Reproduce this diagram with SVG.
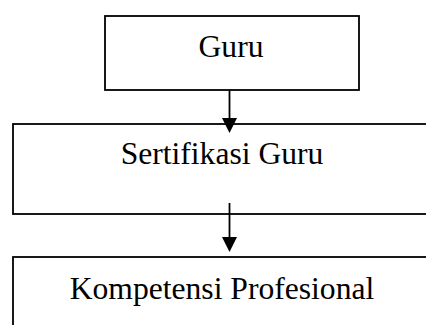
<svg xmlns="http://www.w3.org/2000/svg" width="426" height="325" viewBox="0 0 426 325">
<style>
.box{fill:#fff;stroke:#000;stroke-width:1.8}
.lbl{font-family:"Liberation Serif","Times New Roman",serif;font-size:31.6px;fill:#000;text-anchor:middle}
.conn{stroke:#000;stroke-width:1.8;fill:none}
.head{fill:#000}
</style>
<rect width="426" height="325" fill="#fff"/>
<g id="node-guru">
<rect class="box" x="105" y="16" width="254" height="74"/>
<text class="lbl" x="231" y="57">Guru</text>
</g>
<g id="node-sertifikasi">
<rect class="box" x="13" y="124" width="430" height="90"/>
<text class="lbl" x="222" y="164">Sertifikasi Guru</text>
</g>
<g id="node-kompetensi">
<rect class="box" x="13" y="257" width="430" height="90"/>
<text class="lbl" x="222" y="299">Kompetensi Profesional</text>
</g>
<g id="connectors">
<line class="conn" x1="229.5" y1="90" x2="229.5" y2="120"/>
<polygon class="head" points="222,118 237,118 229.5,133"/>
<line class="conn" x1="229.5" y1="203" x2="229.5" y2="239"/>
<polygon class="head" points="222,237 237,237 229.5,252"/>
</g>
</svg>
